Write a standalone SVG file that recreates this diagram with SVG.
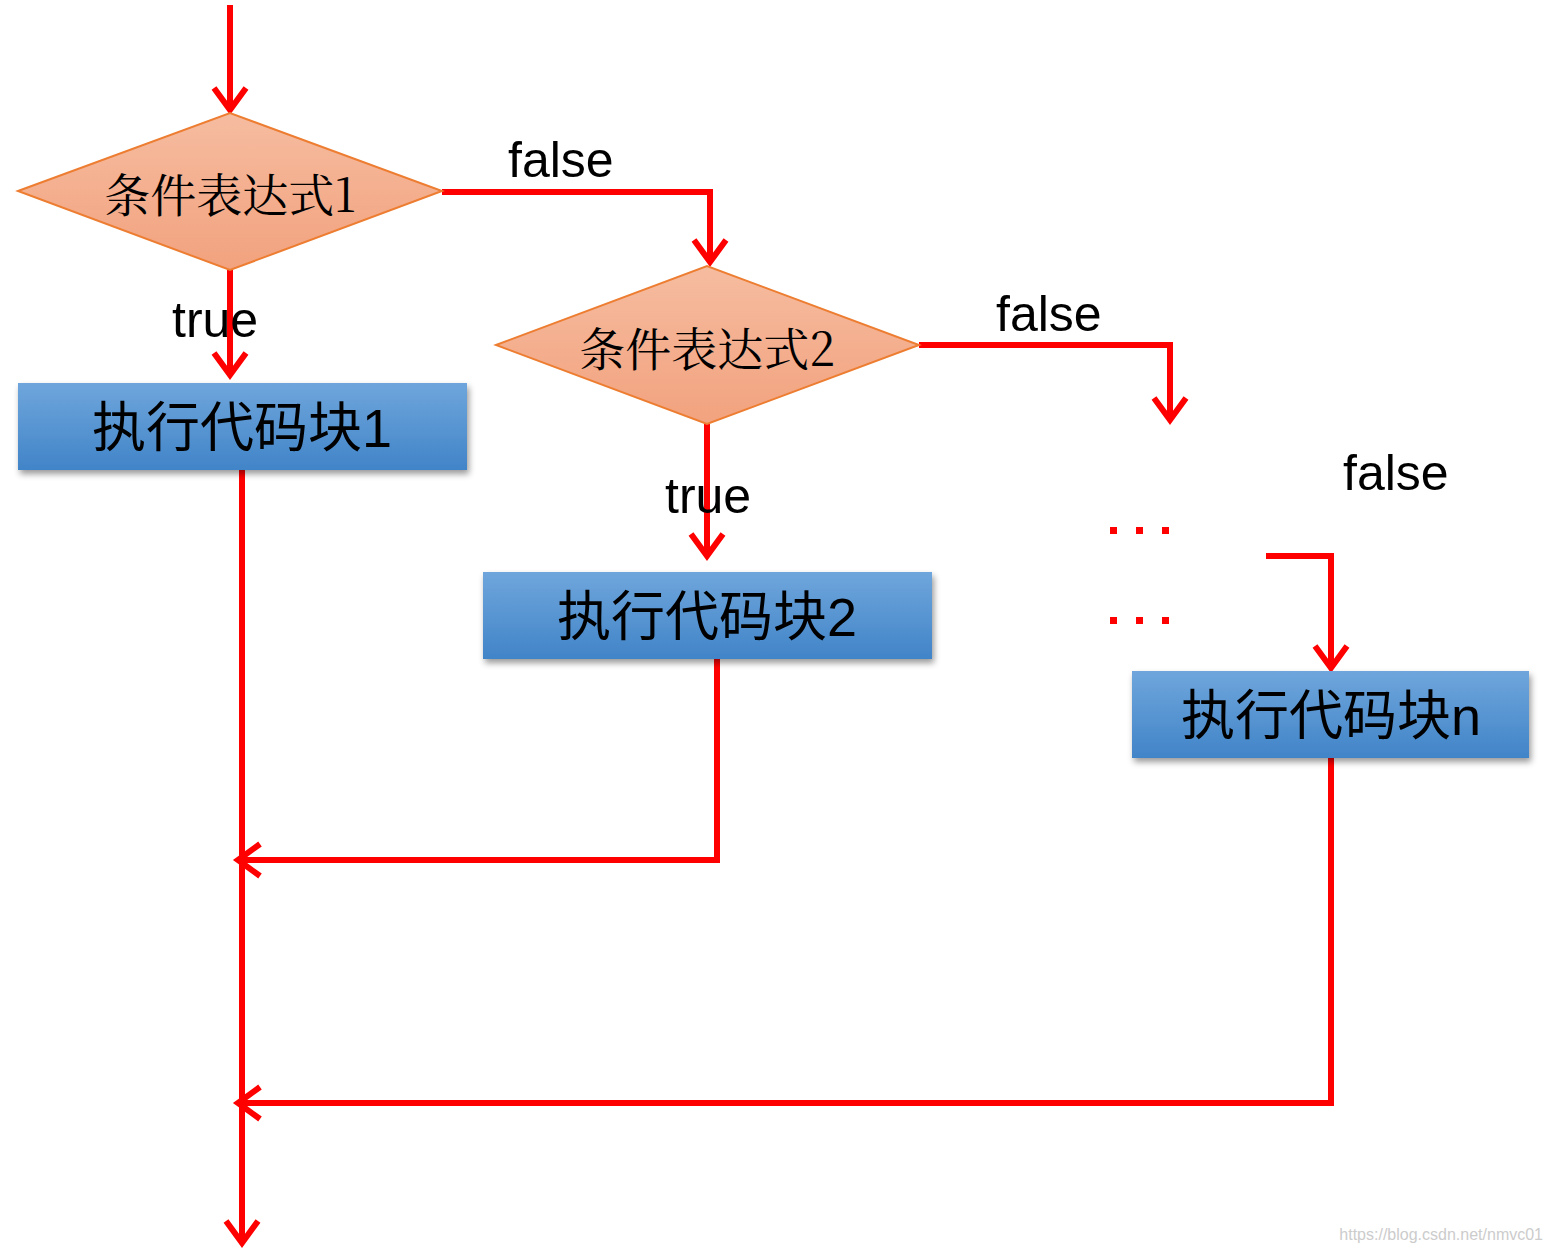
<svg xmlns="http://www.w3.org/2000/svg" width="1551" height="1252" viewBox="0 0 1551 1252">
<defs>
<linearGradient id="dg" x1="0" y1="0" x2="0" y2="1"><stop offset="0" stop-color="#f6bca0"/><stop offset="1" stop-color="#f2a27e"/></linearGradient>
<linearGradient id="bg" x1="0" y1="0" x2="0" y2="1"><stop offset="0" stop-color="#6fa6dc"/><stop offset="1" stop-color="#4184c8"/></linearGradient>
<filter id="sh" x="-5%" y="-20%" width="110%" height="150%"><feDropShadow dx="2" dy="4" stdDeviation="3" flood-color="#000" flood-opacity="0.4"/></filter>
<marker id="ar" markerUnits="userSpaceOnUse" markerWidth="50" markerHeight="50" refX="40" refY="25" orient="auto" viewBox="0 0 50 50">
<path d="M18 9 L40 25 L18 41" fill="none" stroke="#ff0000" stroke-width="6"/>
</marker>
<style>
.d{fill:url(#dg);stroke:#ed7d31;stroke-width:2}
.b{fill:url(#bg);filter:url(#sh)}
.c{fill:none;stroke:#ff0000;stroke-width:6;marker-end:url(#ar)}
.cn{fill:none;stroke:#ff0000;stroke-width:6}
.dt{font-family:"Noto Serif CJK SC","Liberation Serif","Noto Sans CJK SC",serif;font-size:46px;fill:#000}
.bt{font-family:"Liberation Sans","Noto Sans CJK SC",sans-serif;font-size:54px;fill:#000}
.l{font-family:"Liberation Sans",Arial,sans-serif;font-size:50px;fill:#000}
</style>
</defs>
<g id="connectors">
<path class="c" d="M230 5 V110"/>
<path class="c" d="M442 192 H710 V262"/>
<path class="c" d="M230 270 V375"/>
<path class="c" d="M919 345 H1170 V420"/>
<path class="c" d="M707 424 V556"/>
<path class="c" d="M242 470 V1243"/>
<path class="c" d="M717 655 V860 H238"/>
<path class="c" d="M1331 758 V1103 H238"/>
<path class="c" d="M1266 556 H1331 V668"/>
<g fill="#ff0000"><rect x="1110" y="527" width="7" height="7"/><rect x="1136" y="527" width="7" height="7"/><rect x="1162" y="527" width="7" height="7"/><rect x="1110" y="617" width="7" height="7"/><rect x="1136" y="617" width="7" height="7"/><rect x="1162" y="617" width="7" height="7"/></g>
</g>
<g id="cond1"><polygon class="d" points="18,191 230,113 442,191 230,270"/><text class="dt" x="230" y="212" text-anchor="middle">条件表达式1</text></g>
<g id="cond2"><polygon class="d" points="496,345 707,266 919,345 707,424"/><text class="dt" x="707" y="366" text-anchor="middle">条件表达式2</text></g>
<g id="block1"><rect class="b" x="18" y="383" width="449" height="87"/><text class="bt" x="242" y="447" text-anchor="middle">执行代码块1</text></g>
<g id="block2"><rect class="b" x="483" y="572" width="449" height="87"/><text class="bt" x="707" y="636" text-anchor="middle">执行代码块2</text></g>
<g id="blockn"><rect class="b" x="1132" y="671" width="397" height="87"/><text class="bt" x="1331" y="735" text-anchor="middle">执行代码块n</text></g>
<g id="labels">
<text class="l" x="508" y="177">false</text>
<text class="l" x="996" y="331">false</text>
<text class="l" x="1343" y="490">false</text>
<text class="l" x="172" y="337">true</text>
<text class="l" x="665" y="513">true</text>
<text x="1543" y="1240" text-anchor="end" font-family="Liberation Sans,sans-serif" font-size="16" fill="#ccc">https://blog.csdn.net/nmvc01</text>
</g>
</svg>
